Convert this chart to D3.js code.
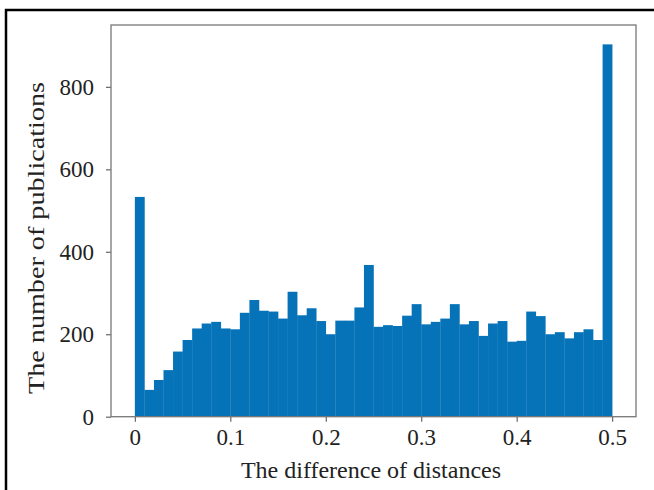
<!DOCTYPE html>
<html>
<head>
<meta charset="utf-8">
<script src="https://cdn.jsdelivr.net/npm/d3@7"></script>
<style>
  body { margin: 0; background: #fff; }
  svg { display: block; font-family: "Liberation Serif", "Times New Roman", serif; }
</style>
</head>
<body>
<svg id="chart"></svg>
<script>
// Histogram data: bin left edges (width 0.01) and counts
const binWidth = 0.01;
const binStarts = [0, 0.01, 0.02, 0.03, 0.04, 0.05, 0.06, 0.07, 0.08, 0.09,
  0.1, 0.11, 0.12, 0.13, 0.14, 0.15, 0.16, 0.17, 0.18, 0.19,
  0.2, 0.21, 0.22, 0.23, 0.24, 0.25, 0.26, 0.27, 0.28, 0.29,
  0.3, 0.31, 0.32, 0.33, 0.34, 0.35, 0.36, 0.37, 0.38, 0.39,
  0.4, 0.41, 0.42, 0.43, 0.44, 0.45, 0.46, 0.47, 0.48, 0.49];
const counts = [533, 65, 89, 113, 158, 186, 214, 226, 230, 214,
  212, 252, 283, 257, 255, 238, 303, 246, 263, 232,
  200, 233, 233, 265, 368, 218, 222, 220, 245, 273,
  224, 230, 238, 273, 224, 232, 196, 226, 232, 182,
  184, 255, 244, 200, 205, 190, 205, 212, 186, 903];
const xTicks = [0, 0.1, 0.2, 0.3, 0.4, 0.5];
const yTicks = [0, 200, 400, 600, 800];

const W = 654, H = 490;
const plot = { left: 111, right: 636, top: 25, bottom: 416.7 };

const svg = d3.select("#chart")
    .attr("width", W)
    .attr("height", H);

// outer figure frame (runs off the right and bottom edges)
svg.append("rect")
    .attr("x", 6).attr("y", 10)
    .attr("width", 660).attr("height", 500)
    .attr("fill", "none")
    .attr("stroke", "#000")
    .attr("stroke-width", 2.5);

const x = d3.scaleLinear()
    .domain([-0.025, 0.525])
    .range([plot.left, plot.right]);

const y = d3.scaleLinear()
    .domain([0, 950])
    .range([plot.bottom, plot.top]);

const data = binStarts.map((s, i) => ({ x0: s, x1: s + binWidth, n: counts[i] }));

// bars
svg.append("g")
    .selectAll("rect")
    .data(data)
    .enter().append("rect")
    .attr("x", d => x(d.x0))
    .attr("y", d => y(d.n))
    .attr("width", d => x(d.x1) - x(d.x0) + 0.3)
    .attr("height", d => y(0) - y(d.n))
    .attr("fill", "#0673b9");

// axes
const xAxis = d3.axisBottom(x)
    .tickValues(xTicks)
    .tickSize(5)
    .tickPadding(7)
    .tickFormat(d => d === 0 ? "0" : d.toFixed(1));

const yAxis = d3.axisLeft(y)
    .tickValues(yTicks)
    .tickSize(5)
    .tickPadding(12);

const gx = svg.append("g")
    .attr("transform", `translate(0,${plot.bottom})`)
    .call(xAxis);

const gy = svg.append("g")
    .attr("transform", `translate(${plot.left},0)`)
    .call(yAxis);

[gx, gy].forEach(g => {
    g.select(".domain").remove();
    g.selectAll("line").attr("stroke", "#666").attr("stroke-width", 1.2);
    g.selectAll("text")
        .attr("fill", "#222")
        .style("font-size", "23px")
        .style("font-family", "'Liberation Serif', 'Times New Roman', serif");
});

// plot frame
svg.append("rect")
    .attr("x", plot.left).attr("y", plot.top)
    .attr("width", plot.right - plot.left)
    .attr("height", plot.bottom - plot.top)
    .attr("fill", "none")
    .attr("stroke", "#777")
    .attr("stroke-width", 1.3);

// axis labels
svg.append("text")
    .attr("x", 371)
    .attr("y", 478)
    .attr("text-anchor", "middle")
    .attr("fill", "#222")
    .style("font-size", "24px")
    .text("The difference of distances");

svg.append("text")
    .attr("transform", "translate(44,238) rotate(-90)")
    .attr("text-anchor", "middle")
    .attr("fill", "#222")
    .style("font-size", "24px")
    .attr("textLength", 312)
    .attr("lengthAdjust", "spacingAndGlyphs")
    .text("The number of publications");
</script>
</body>
</html>
